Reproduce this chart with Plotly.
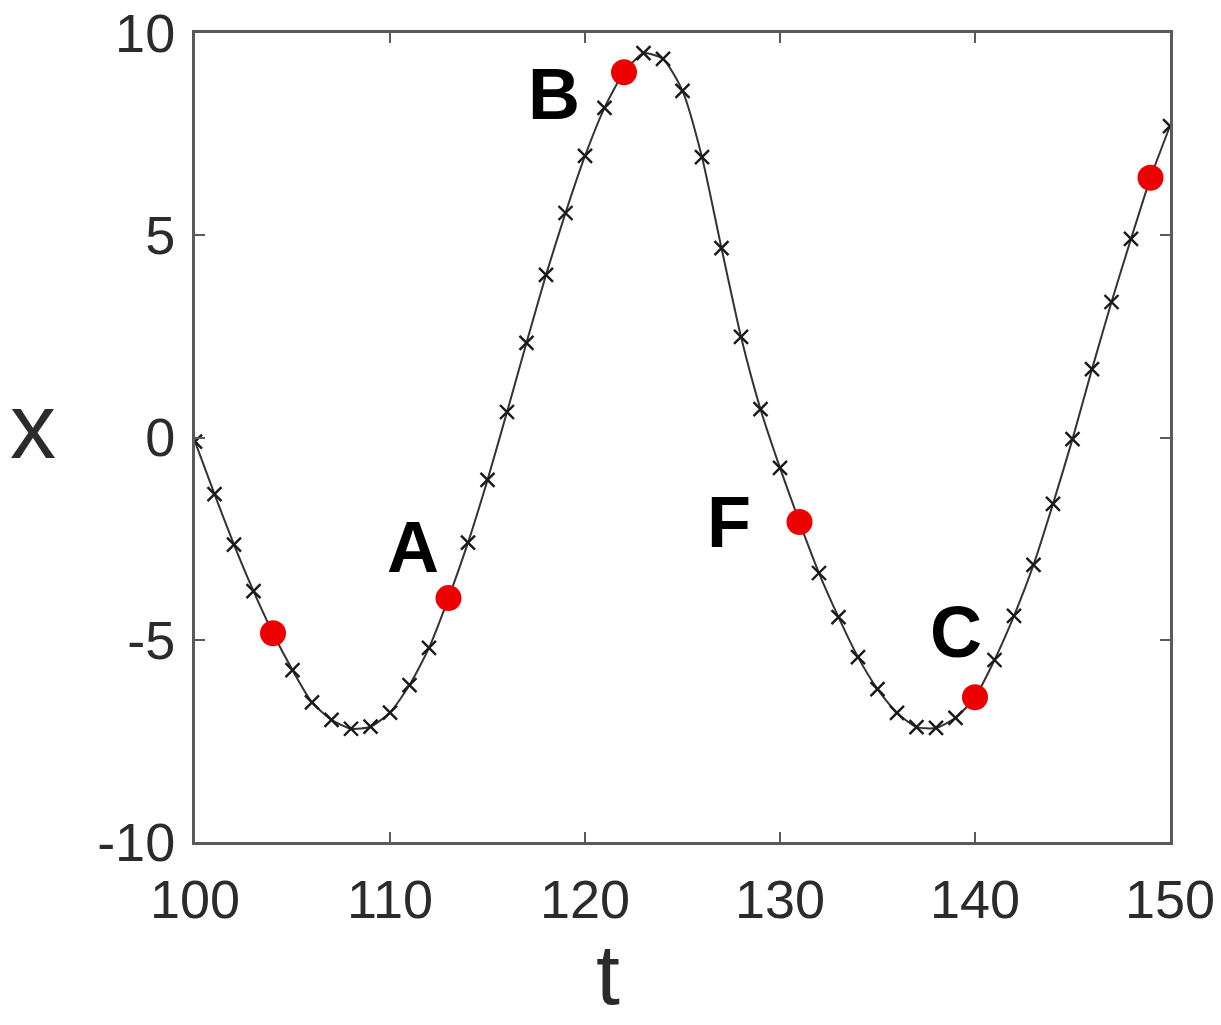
import plotly.graph_objects as go

# Sampled trajectory x(t), one sample per unit time
t_vals = list(range(100, 151))
x_vals = [
    -0.10, -1.40, -2.65, -3.80, -4.84, -5.75, -6.55, -6.98, -7.20, -7.15,
    -6.80, -6.12, -5.20, -3.97, -2.60, -1.05, 0.63, 2.34, 4.02, 5.55,
    6.96, 8.15, 9.03, 9.50, 9.36, 8.57, 6.93, 4.68, 2.49, 0.70,
    -0.75, -2.09, -3.35, -4.44, -5.43, -6.22, -6.81, -7.16, -7.18, -6.93,
    -6.42, -5.50, -4.41, -3.15, -1.64, -0.04, 1.69, 3.35, 4.91, 6.42,
    7.70,
]

# Highlighted sample times (every 9th step)
highlight_t = [104, 113, 122, 131, 140, 149]
highlight_x = [x_vals[t_vals.index(t)] for t in highlight_t]

# Point labels and their positions
label_text = ["A", "B", "F", "C"]
label_t = [111.2, 118.4, 127.4, 139.0]
label_x = [-2.7, 8.5, -2.1, -4.8]

x_ticks = [100, 110, 120, 130, 140, 150]
y_ticks = [-10, -5, 0, 5, 10]

axis_color = "#5a5a5a"
font_family = "Liberation Sans, Arial, sans-serif"
tick_font = dict(family=font_family, size=54, color="#2b2b2b")

fig = go.Figure()

fig.add_trace(go.Scatter(
    x=t_vals, y=x_vals, mode="lines+markers",
    line=dict(color="#333333", width=2, shape="spline", smoothing=0.6),
    marker=dict(symbol="x-thin", size=14, line=dict(color="#1a1a1a", width=2.4)),
    showlegend=False, hoverinfo="skip",
))

fig.add_trace(go.Scatter(
    x=highlight_t, y=highlight_x, mode="markers",
    marker=dict(symbol="circle", size=26, color="#ee0000", line=dict(width=0)),
    showlegend=False, hoverinfo="skip",
))

for txt, tx, xx in zip(label_text, label_t, label_x):
    fig.add_annotation(
        x=tx, y=xx, text=f"<b>{txt}</b>", showarrow=False,
        xanchor="center", yanchor="middle",
        font=dict(family=font_family, size=72, color="#000000"),
    )

# Axis titles, placed as plain text
fig.add_annotation(
    xref="paper", yref="paper", x=(608 - 195) / 975, y=-(1023 - 842) / 809,
    text="t", showarrow=False, xanchor="center", yanchor="bottom", borderpad=0,
    font=dict(family=font_family, size=86, color="#2b2b2b"),
)
fig.add_annotation(
    xref="paper", yref="paper", x=-(195 - 33) / 975, y=(842 - 426) / 809,
    text="x", showarrow=False, xanchor="center", yanchor="middle",
    font=dict(family=font_family, size=92, color="#2b2b2b"),
)

fig.update_xaxes(
    range=[100, 150], tickvals=x_ticks, ticktext=[str(v) for v in x_ticks],
    showgrid=False, zeroline=False, automargin=False,
    showline=True, linecolor=axis_color, linewidth=3, mirror="ticks",
    ticks="inside", ticklen=10, tickwidth=2, tickcolor=axis_color,
    tickfont=tick_font, ticklabelstandoff=8,
)
fig.update_yaxes(
    range=[-10, 10], tickvals=y_ticks, ticktext=[str(v) for v in y_ticks],
    showgrid=False, zeroline=False, automargin=False,
    showline=True, linecolor=axis_color, linewidth=3, mirror="ticks",
    ticks="inside", ticklen=10, tickwidth=2, tickcolor=axis_color,
    tickfont=tick_font, ticklabelstandoff=6,
)

fig.update_layout(
    width=1221, height=1025,
    margin=dict(l=195, r=51, t=33, b=183),
    paper_bgcolor="white", plot_bgcolor="white",
)

fig.write_html("out.html")
